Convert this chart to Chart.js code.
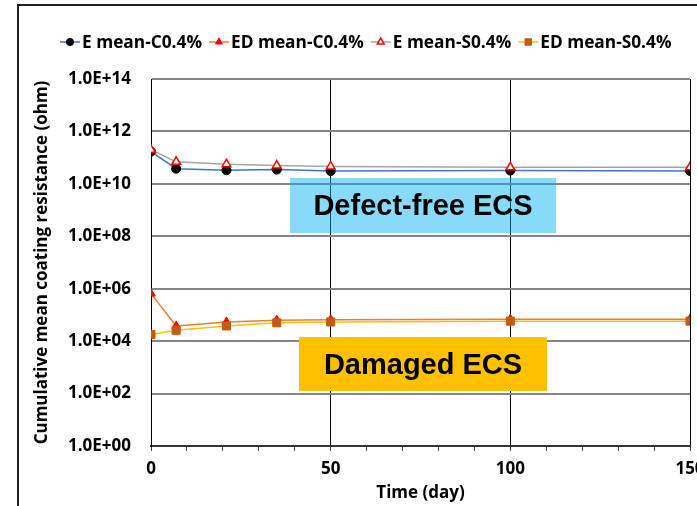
<!DOCTYPE html>
<html>
<head>
<meta charset="utf-8">
<script src="https://cdn.jsdelivr.net/npm/chart.js@4.4.1/dist/chart.umd.min.js"></script>
<style>
  html, body { margin: 0; padding: 0; background: #fff; overflow: hidden; }
  #wrap { position: relative; width: 697px; height: 506px; overflow: hidden; }
  #frame { position: absolute; left: 17px; top: 4px; width: 760px; height: 600px;
           border-left: 2px solid #222; border-top: 2px solid #222; }
  canvas { position: absolute; left: 0; top: 0; }
</style>
</head>
<body>
<div id="wrap">
  <div id="frame"></div>
  <canvas id="chart" width="760" height="506"></canvas>
</div>
<script>
// data
const days = [0, 7, 21, 35, 50, 100, 150];
const eMeanC = [1.7e11, 3.8e10, 3.3e10, 3.5e10, 3.1e10, 3.2e10, 3.1e10];
const edMeanC = [6.5e5, 3.8e4, 5.4e4, 6.3e4, 6.6e4, 6.9e4, 6.9e4];
const eMeanS = [2.0e11, 6.9e10, 5.6e10, 5.0e10, 4.6e10, 4.3e10, 4.3e10];
const edMeanS = [1.8e4, 2.6e4, 3.8e4, 5.0e4, 5.4e4, 5.8e4, 5.8e4];
const seriesNames = ['E mean-C0.4%', 'ED mean-C0.4%', 'E mean-S0.4%', 'ED mean-S0.4%'];
const yTickValues = [1, 1e2, 1e4, 1e6, 1e8, 1e10, 1e12, 1e14];
const xTickLabels = [0, 50, 100, 150];

const FONT = "'Open Sans', 'DejaVu Sans', sans-serif";

// label boxes, placed in data units
const boxes = [
    { text: 'Defect-free ECS', x0: 38.7, x1: 112.7, y0: Math.pow(10, 8.125), y1: Math.pow(10, 10.224), fill: 'rgba(0,176,240,0.47)' },
    { text: 'Damaged ECS', x0: 41.2, x1: 110.2, y0: Math.pow(10, 2.098), y1: Math.pow(10, 4.158), fill: '#FFC000' }
];

function sciLabel(v) {
    const e = Math.round(Math.log10(v));
    return '1.0E+' + (e < 10 ? '0' + e : e);
}

const boxPlugin = {
    id: 'boxes',
    beforeDatasetsDraw(chart) {
        const ctx = chart.ctx;
        const xs = chart.scales.x, ys = chart.scales.y;
        ctx.save();
        boxes.forEach(b => {
            const l = xs.getPixelForValue(b.x0), r = xs.getPixelForValue(b.x1);
            const t = ys.getPixelForValue(b.y1), btm = ys.getPixelForValue(b.y0);
            ctx.fillStyle = b.fill;
            ctx.fillRect(l, t, r - l, btm - t);
            ctx.fillStyle = '#000';
            ctx.font = "bold 29px 'Liberation Sans', Arial, sans-serif";
            ctx.textAlign = 'center';
            ctx.textBaseline = 'middle';
            ctx.fillText(b.text, (l + r) / 2, (t + btm) / 2 + 2);
        });
        ctx.restore();
    }
};

const legendPlugin = {
    id: 'lineLegend',
    afterDraw(chart) {
        const ctx = chart.ctx;
        let x = 60;
        const y = 42;
        ctx.save();
        ctx.font = 'bold 17.3px ' + FONT;
        ctx.textBaseline = 'middle';
        ctx.textAlign = 'left';
        chart.data.datasets.forEach(ds => {
            ctx.strokeStyle = ds.borderColor;
            ctx.lineWidth = 1.5;
            ctx.beginPath();
            ctx.moveTo(x, y);
            ctx.lineTo(x + 20, y);
            ctx.stroke();
            ctx.fillStyle = ds.pointBackgroundColor;
            ctx.strokeStyle = ds.pointBorderColor;
            ctx.lineWidth = ds.pointBorderWidth;
            Chart.helpers.drawPoint(ctx, {
                pointStyle: ds.pointStyle, radius: ds.pointRadius * 0.8,
                rotation: 0, borderWidth: ds.pointBorderWidth
            }, x + 10, y);
            ctx.fillStyle = '#000';
            ctx.fillText(ds.label, x + 22, y + 1);
            x += 22 + ctx.measureText(ds.label).width + 7;
        });
        ctx.restore();
    }
};

Chart.defaults.font.family = FONT;
Chart.defaults.font.weight = 'bold';
Chart.defaults.color = '#000';

const toPoints = vals => days.map((d, i) => ({ x: d, y: vals[i] }));

new Chart(document.getElementById('chart'), {
    type: 'line',
    data: {
        datasets: [
            {
                label: seriesNames[0], data: toPoints(eMeanC), order: 4,
                borderColor: '#4472C4', borderWidth: 1.5,
                pointStyle: 'circle', pointRadius: 4.5,
                pointBackgroundColor: '#000', pointBorderColor: '#000', pointBorderWidth: 1
            },
            {
                label: seriesNames[1], data: toPoints(edMeanC), order: 3,
                borderColor: '#ED7D31', borderWidth: 1.5,
                pointStyle: 'triangle', pointRadius: 5,
                pointBackgroundColor: '#FF0000', pointBorderColor: '#FF0000', pointBorderWidth: 1
            },
            {
                label: seriesNames[2], data: toPoints(eMeanS), order: 2,
                borderColor: '#A5A5A5', borderWidth: 1.5,
                pointStyle: 'triangle', pointRadius: 5,
                pointBackgroundColor: '#fff', pointBorderColor: '#FF0000', pointBorderWidth: 1.5
            },
            {
                label: seriesNames[3], data: toPoints(edMeanS), order: 1,
                borderColor: '#FFC000', borderWidth: 1.5,
                pointStyle: 'rect', pointRadius: 5.7,
                pointBackgroundColor: '#C55A11', pointBorderColor: '#C55A11', pointBorderWidth: 1
            }
        ]
    },
    options: {
        responsive: false,
        devicePixelRatio: 1,
        animation: false,
        layout: { padding: { left: 20, top: 79, right: 70, bottom: 0 } },
        plugins: { legend: { display: false }, tooltip: { enabled: false } },
        scales: {
            x: {
                type: 'linear', min: 0, max: 150,
                afterFit: s => { s.height = 60; },
                border: { color: '#333', width: 2 },
                grid: {
                    color: c => (c.tick && c.tick.value % 50 === 0) ? '#000' : 'rgba(0,0,0,0)',
                    tickColor: '#444', tickLength: 5, lineWidth: 1
                },
                ticks: {
                    stepSize: 10, autoSkip: false, maxRotation: 0, padding: 8,
                    font: { size: 17, weight: 'bold' },
                    callback: v => xTickLabels.includes(v) ? String(v) : ''
                },
                title: { display: true, text: 'Time (day)', font: { size: 17, weight: 'bold' }, padding: { top: 0, bottom: 3 } }
            },
            y: {
                type: 'logarithmic', min: 1, max: 1e14,
                afterFit: s => { s.width = 131; },
                afterBuildTicks: s => { s.ticks = yTickValues.map(v => ({ value: v })); },
                border: { color: '#000', width: 1 },
                grid: { color: '#858585', lineWidth: 2, drawTicks: false },
                ticks: { padding: 20, font: { size: 17, weight: 'bold' }, callback: v => sciLabel(v) },
                title: {
                    display: true, text: 'Cumulative mean coating resistance (ohm)',
                    font: { size: 17, weight: 'bold' }, padding: { top: 12, bottom: 0 }
                }
            }
        }
    },
    plugins: [boxPlugin, legendPlugin]
});
</script>
</body>
</html>
